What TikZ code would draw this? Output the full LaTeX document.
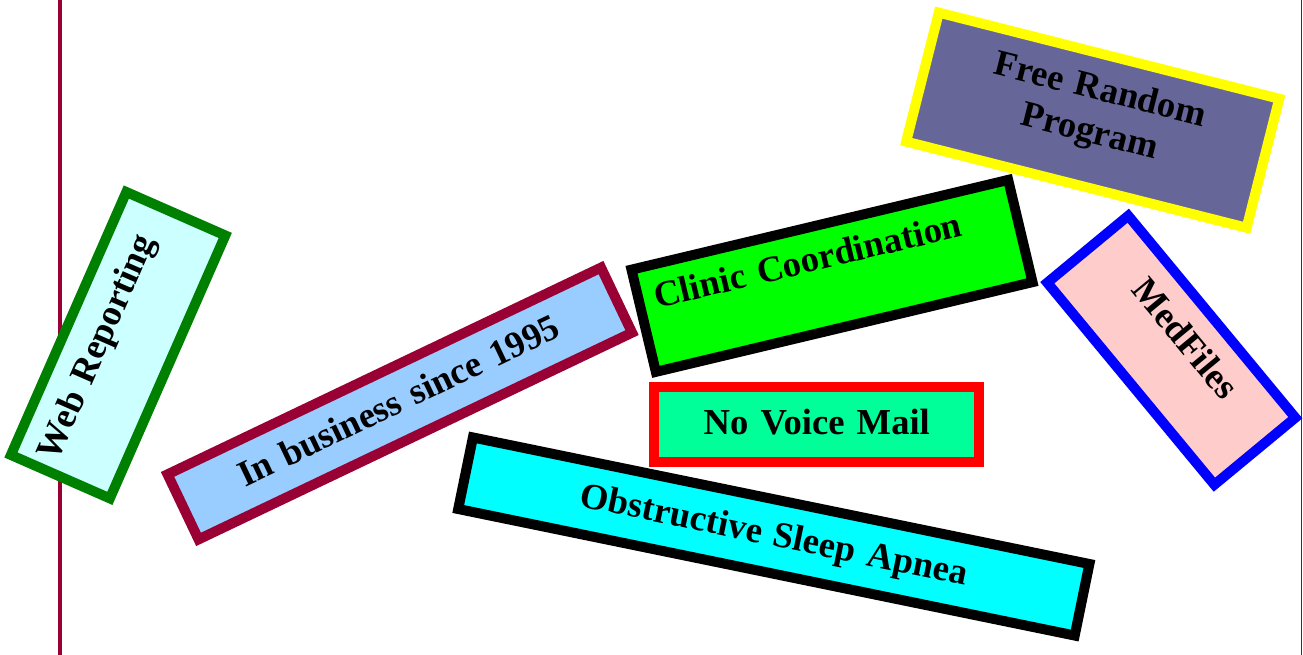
\documentclass[tikz,border=0pt]{standalone}
\usepackage{fontspec}
\setmainfont{Liberation Serif}
\usepackage{xcolor}
\definecolor{rulemaroon}{HTML}{990033}
\definecolor{webgreen}{HTML}{008000}
\definecolor{webcyan}{HTML}{CCFFFF}
\definecolor{bizblue}{HTML}{99CCFF}
\definecolor{cliniclime}{HTML}{00FF00}
\definecolor{progyellow}{HTML}{FFFF00}
\definecolor{progslate}{HTML}{666699}
\definecolor{medblue}{HTML}{0000FF}
\definecolor{medpink}{HTML}{FFCCCC}
\definecolor{mailred}{HTML}{FF0000}
\definecolor{mailgreen}{HTML}{00FF99}
\definecolor{apneacyan}{HTML}{00FFFF}

\begin{document}
\begin{tikzpicture}[x=0.01cm, y=-0.01cm,
  every node/.style={font=\fontsize{10.4}{12.2}\selectfont\bfseries},
  tag/.style={line width=0.1cm, inner sep=0pt, align=center, text height=0.46cm}]
\useasboundingbox (0,0) rectangle (1303,655);
% margin rules
\draw[line width=0.03cm, rulemaroon] (60,0) -- (60,655);
\draw[line width=0.01cm, rulemaroon] (1301.5,0) -- (1301.5,655);
% tilted tags
\node[tag, draw=webgreen, fill=webcyan, rotate=66.3, align=left, inner xsep=0.12cm, text width=2.63cm, text depth=0.62cm] (web) at (118.1,345.2) {Web Reporting};
\node[tag, draw=rulemaroon, fill=bizblue, rotate=25.5, text width=4.80cm, text height=0.45cm, text depth=0.27cm] (business) at (399.8,403.5) {In business since 1995};
\node[tag, draw=black, fill=cliniclime, rotate=13.4, align=left, inner xsep=0.16cm, text width=3.55cm, text height=0.44cm, text depth=0.61cm] (clinic) at (832,275.9) {Clinic Coordination};
\node[tag, draw=progyellow, fill=progslate, rotate=-14.2, text width=3.51cm, text depth=0.87cm] (freeprog) at (1092.7,120.2) {Free Random\\Program};
\node[tag, draw=medblue, fill=medpink, rotate=-50.4, text width=2.62cm, text depth=0.59cm] (medfiles) at (1171.3,350.2) {MedFiles};
\node[tag, draw=mailred, fill=mailgreen, text width=3.25cm, text height=0.47cm, text depth=0.27cm] (voicemail) at (816.8,424.5) {No Voice Mail};
\node[tag, draw=black, fill=apneacyan, rotate=-11.6, text width=6.29cm, text depth=0.27cm] (apnea) at (773.8,536.5) {Obstructive Sleep Apnea};
\end{tikzpicture}
\end{document}
